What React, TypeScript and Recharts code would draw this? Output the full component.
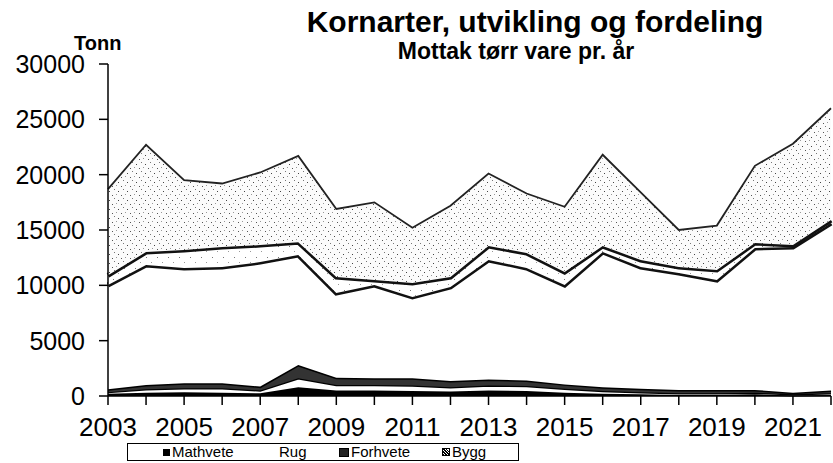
import React from 'react';
import { AreaChart, Area, XAxis, YAxis } from 'recharts';

const years = [2003, 2004, 2005, 2006, 2007, 2008, 2009, 2010, 2011, 2012, 2013, 2014, 2015, 2016, 2017, 2018, 2019, 2020, 2021, 2022];
const mathvete = [200, 300, 350, 300, 250, 800, 500, 500, 450, 400, 500, 450, 300, 200, 150, 100, 100, 150, 50, 100];
const rug = [150, 300, 350, 400, 250, 800, 500, 500, 500, 400, 450, 450, 350, 250, 200, 150, 150, 150, 100, 150];
const forhvete = [250, 400, 450, 450, 350, 1200, 650, 600, 650, 550, 550, 500, 400, 350, 300, 300, 300, 250, 150, 250];
const bygg = [9430, 10840, 10420, 10510, 11250, 9940, 7650, 8430, 7350, 8500, 10790, 10170, 8980, 12210, 11010, 10560, 9930, 12820, 13160, 15130];
const band = [870, 1170, 1620, 1800, 1540, 1160, 1450, 450, 1260, 900, 1260, 1350, 1170, 540, 630, 550, 910, 450, 180, 270];
const top = [7800, 9690, 6310, 5740, 6560, 7800, 6150, 7020, 4990, 6450, 6550, 5380, 5900, 8250, 6110, 3340, 4010, 6980, 9160, 10100];
const yTicks = [0, 5000, 10000, 15000, 20000, 25000, 30000];
const legendNames = ['Mathvete', 'Rug', 'Forhvete', 'Bygg'];

const data = years.map((y, i) => ({
  year: y,
  Mathvete: mathvete[i],
  Rug: rug[i],
  Forhvete: forhvete[i],
  Bygg: bygg[i],
  Havre: band[i],
  Annet: top[i],
}));

const FONT = '"Liberation Sans", Arial, sans-serif';
const legendLeft = [35, 142, 211, 314];
const legendIcon: React.CSSProperties[] = [
  { width: 7, height: 7, background: '#000' },
  { width: 7, height: 7, background: 'transparent' },
  { width: 8, height: 7, background: '#222', border: '1px solid #000' },
  { width: 6, height: 6, background: 'repeating-linear-gradient(45deg,#000 0 1px,#fff 1px 2px)', border: '1px solid #000' },
];

export default function App() {
  return (
    <div style={{ position: 'absolute', left: 0, top: 0, width: 833, height: 463, background: '#fff', fontFamily: FONT }}>
      <svg width={0} height={0} style={{ position: 'absolute' }}>
        <defs>
          <pattern id="stipple" width="9" height="9" patternUnits="userSpaceOnUse">
            <rect width="9" height="9" fill="#fbfbfb" />
            <rect x="1" y="2" width="1" height="1" fill="#444" />
            <rect x="6" y="0" width="1" height="1" fill="#777" />
            <rect x="4" y="6" width="1" height="1" fill="#555" />
            <rect x="8" y="5" width="1" height="1" fill="#999" />
          </pattern>
          <pattern id="stipple2" width="11" height="11" patternUnits="userSpaceOnUse">
            <rect width="11" height="11" fill="#fff" />
            <rect x="3" y="4" width="1" height="1" fill="#777" />
            <rect x="8" y="9" width="1" height="1" fill="#999" />
          </pattern>
        </defs>
      </svg>
      <div style={{ position: 'absolute', left: 0, width: 1070, top: 5, textAlign: 'center', fontWeight: 'bold', fontSize: 30, lineHeight: '34px', color: '#000' }}>
        Kornarter, utvikling og fordeling
      </div>
      <div style={{ position: 'absolute', left: 0, width: 1032, top: 38, textAlign: 'center', fontWeight: 'bold', fontSize: 23, lineHeight: '26px', color: '#000' }}>
        Mottak tørr vare pr. år
      </div>
      <div style={{ position: 'absolute', left: 74, top: 32, fontWeight: 'bold', fontSize: 20, lineHeight: '22px', color: '#000' }}>
        Tonn
      </div>
      <AreaChart width={833} height={463} data={data} margin={{ top: 64, right: 2, bottom: 0, left: 0 }}>
        <XAxis
          dataKey="year"
          type="number"
          domain={[2003, 2022]}
          ticks={years}
          interval={0}
          height={67}
          tickSize={9}
          tickMargin={13}
          tickFormatter={(v: number) => ((v - 2003) % 2 === 0 && v <= 2021 ? String(v) : '')}
          tick={{ fill: '#000', fontSize: 26, fontFamily: FONT }}
          axisLine={{ stroke: '#000', strokeWidth: 1.5 }}
          tickLine={{ stroke: '#000', strokeWidth: 1.5 }}
        />
        <YAxis
          type="number"
          domain={[0, 30000]}
          ticks={yTicks}
          interval={0}
          width={108}
          tickSize={9}
          tickMargin={14}
          tick={{ fill: '#000', fontSize: 25, fontFamily: FONT }}
          axisLine={{ stroke: '#000', strokeWidth: 1.5 }}
          tickLine={{ stroke: '#000', strokeWidth: 1.5 }}
        />
        <Area type="linear" dataKey="Mathvete" stackId="a" fill="#000" stroke="#000" strokeWidth={2} fillOpacity={1} isAnimationActive={false} />
        <Area type="linear" dataKey="Rug" stackId="a" fill="#fff" stroke="#000" strokeWidth={2.5} fillOpacity={1} isAnimationActive={false} />
        <Area type="linear" dataKey="Forhvete" stackId="a" fill="#333" stroke="#000" strokeWidth={3} fillOpacity={1} isAnimationActive={false} />
        <Area type="linear" dataKey="Bygg" stackId="a" fill="#fff" stroke="#111" strokeWidth={5} fillOpacity={1} isAnimationActive={false} />
        <Area type="linear" dataKey="Havre" stackId="a" fill="url(#stipple2)" stroke="#111" strokeWidth={5} fillOpacity={1} isAnimationActive={false} />
        <Area type="linear" dataKey="Annet" stackId="a" fill="url(#stipple)" stroke="#222" strokeWidth={1.8} fillOpacity={1} isAnimationActive={false} />
      </AreaChart>
      <div style={{ position: 'absolute', left: 127, top: 443, width: 390, height: 16, border: '1px solid #000', fontSize: 15, lineHeight: '16px', color: '#000' }}>
        {legendNames.map((n, i) => (
          <div key={n} style={{ position: 'absolute', left: legendLeft[i], top: 0, display: 'flex', alignItems: 'center', height: 16 }}>
            <span style={{ display: 'inline-block', marginRight: 2, ...legendIcon[i] }} />
            <span>{n}</span>
          </div>
        ))}
      </div>
    </div>
  );
}
